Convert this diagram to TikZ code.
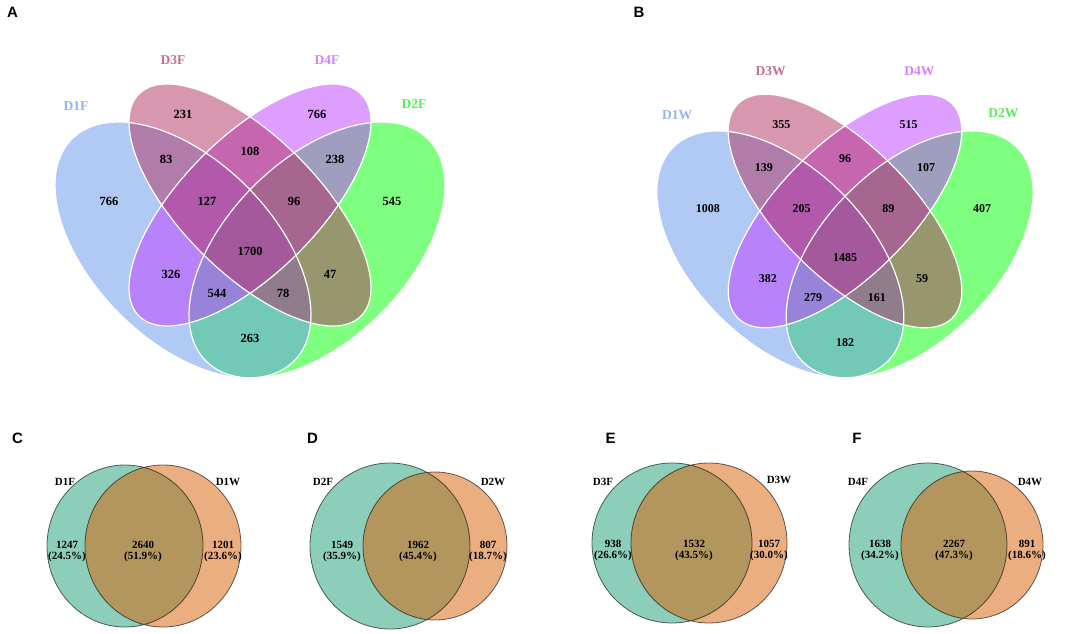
\documentclass[tikz,border=0pt]{standalone}
\usepackage{fontspec}
\setmainfont{Liberation Serif}
\newfontfamily\panelfont{Liberation Sans}

\definecolor{vblue}{RGB}{100,149,237}
\definecolor{vgreen}{RGB}{0,255,0}
\definecolor{vpurple}{RGB}{191,62,255}
\definecolor{vpink}{RGB}{176,48,96}
\definecolor{lblue}{RGB}{150,180,240}
\definecolor{lgreen}{RGB}{90,235,90}
\definecolor{lpurple}{RGB}{215,130,250}
\definecolor{lpink}{RGB}{205,110,140}
\definecolor{fteal}{RGB}{27,158,119}
\definecolor{forange}{RGB}{217,95,2}

\tikzset{
  setfill/.style={fill=#1, fill opacity=0.5},
  setline/.style={draw=white, line width=1.2pt},
  setlabel/.style={font=\fontsize{13.5}{14}\selectfont\bfseries, inner sep=0pt},
  panel/.style={font=\panelfont\fontsize{15}{15}\selectfont\bfseries, inner sep=0pt},
  rim/.style={draw=black, draw opacity=0.6, line width=0.8pt},
  pairnum/.style={font=\fontsize{11}{11}\selectfont\bfseries, align=center, inner sep=0pt},
  pairlabel/.style={font=\fontsize{11}{11}\selectfont\bfseries, inner sep=0pt}
}

% four ellipses, drawn round the centre of the current scope
\newcommand{\quadsets}{%
  \fill[setfill=vgreen] (67,-45) ellipse [x radius=157, y radius=90, rotate=45];
  \fill[setfill=vblue] (-67,-45) ellipse [x radius=157, y radius=90, rotate=-45];
  \fill[setfill=vpurple] (0,0) ellipse [x radius=157, y radius=68, rotate=45];
  \fill[setfill=vpink] (0,0) ellipse [x radius=157, y radius=68, rotate=-45];
  \draw[setline] (67,-45) ellipse [x radius=157, y radius=90, rotate=45];
  \draw[setline] (-67,-45) ellipse [x radius=157, y radius=90, rotate=-45];
  \draw[setline] (0,0) ellipse [x radius=157, y radius=68, rotate=45];
  \draw[setline] (0,0) ellipse [x radius=157, y radius=68, rotate=-45];
}

\begin{document}
\begin{tikzpicture}[x=1pt, y=1pt]
\useasboundingbox[fill=white] (0,0) rectangle (1084,-634);

% A
\node[panel] (pA) at (12.5,-12) {A};
\begin{scope}[shift={(250,-205)}]
  \quadsets
  \node[setlabel, text=lblue] (a1) at (-174,99) {D1F};
  \node[setlabel, text=lpink] (a3) at (-77,145) {D3F};
  \node[setlabel, text=lpurple] (a4) at (77,145) {D4F};
  \node[setlabel, text=lgreen] (a2) at (164,101) {D2F};
  \foreach \px/\py/\val [count=\i] in {-141/4/766, -67/91/231, 67/91/766, 142/4/545,
      -84/46/83, 0/54/108, 85/46/238, -43/4/127, 44/4/96, 0/-46/1700,
      -79/-69/326, 80/-69/47, -33/-88/544, 33/-88/78, 0/-133/263}
    \node[font=\fontsize{12.5}{13}\selectfont\bfseries] (an\i) at (\px,\py) {\val};
\end{scope}

% B
\node[panel] (pB) at (639,-12) {B};
\begin{scope}[shift={(845,-211)}, scale=0.965]
  \quadsets
  \node[setlabel, text=lblue] (b1) at (-174,99) {D1W};
  \node[setlabel, text=lpink] (b3) at (-77,145) {D3W};
  \node[setlabel, text=lpurple] (b4) at (77,145) {D4W};
  \node[setlabel, text=lgreen] (b2) at (164,101) {D2W};
  \foreach \px/\py/\val [count=\i] in {-142/3/1008, -66/90/355, 66/90/515, 142/3/407,
      -84/45/139, 0/54/96, 84/45/107, -45/3/205, 45/3/89, 0/-48/1485,
      -80/-70/382, 80/-70/59, -33/-90/279, 33/-90/161, 0/-136/182}
    \node[font=\fontsize{12}{12}\selectfont\bfseries] (bn\i) at (\px,\py) {\val};
\end{scope}

% C
\node[panel] (pC) at (17.5,-438) {C};
\fill[setfill=fteal] (125,-546) ellipse [x radius=78, y radius=81];
\fill[setfill=forange] (163,-546) ellipse [x radius=78, y radius=81];
\draw[rim] (125,-546) ellipse [x radius=78, y radius=81]
           (163,-546) ellipse [x radius=78, y radius=81];
\node[pairlabel] (c1) at (65,-482) {D1F};
\node[pairlabel] (c2) at (228,-482) {D1W};
\node[pairnum] (c3) at (67,-552) {1247\\(24.5\%)};
\node[pairnum] (c4) at (143,-552) {2640\\(51.9\%)};
\node[pairnum] (c5) at (223,-552) {1201\\(23.6\%)};

% D
\node[panel] (pD) at (312.5,-438) {D};
\fill[setfill=fteal] (390,-546) ellipse [x radius=80, y radius=83];
\fill[setfill=forange] (435,-546) ellipse [x radius=72, y radius=74];
\draw[rim] (390,-546) ellipse [x radius=80, y radius=83]
           (435,-546) ellipse [x radius=72, y radius=74];
\node[pairlabel] (d1) at (323,-482) {D2F};
\node[pairlabel] (d2) at (493,-482) {D2W};
\node[pairnum] (d3) at (342,-552) {1549\\(35.9\%)};
\node[pairnum] (d4) at (418,-552) {1962\\(45.4\%)};
\node[pairnum] (d5) at (488,-552) {807\\(18.7\%)};

% E
\node[panel] (pE) at (610.5,-438) {E};
\fill[setfill=fteal] (672,-543) ellipse [x radius=80, y radius=80];
\fill[setfill=forange] (709,-543) ellipse [x radius=78, y radius=80];
\draw[rim] (672,-543) ellipse [x radius=80, y radius=80]
           (709,-543) ellipse [x radius=78, y radius=80];
\node[pairlabel] (e1) at (603,-482) {D3F};
\node[pairlabel] (e2) at (779,-480) {D3W};
\node[pairnum] (e3) at (613,-550.5) {938\\(26.6\%)};
\node[pairnum] (e4) at (694,-550.5) {1532\\(43.5\%)};
\node[pairnum] (e5) at (769,-550.5) {1057\\(30.0\%)};

% F
\node[panel] (pF) at (857,-438) {F};
\fill[setfill=fteal] (928,-545) ellipse [x radius=79, y radius=82];
\fill[setfill=forange] (972,-545) ellipse [x radius=71, y radius=74];
\draw[rim] (928,-545) ellipse [x radius=79, y radius=82]
           (972,-545) ellipse [x radius=71, y radius=74];
\node[pairlabel] (f1) at (858,-482) {D4F};
\node[pairlabel] (f2) at (1030,-482) {D4W};
\node[pairnum] (f3) at (880,-550.5) {1638\\(34.2\%)};
\node[pairnum] (f4) at (954,-550.5) {2267\\(47.3\%)};
\node[pairnum] (f5) at (1027,-550.5) {891\\(18.6\%)};
\end{tikzpicture}
\end{document}
